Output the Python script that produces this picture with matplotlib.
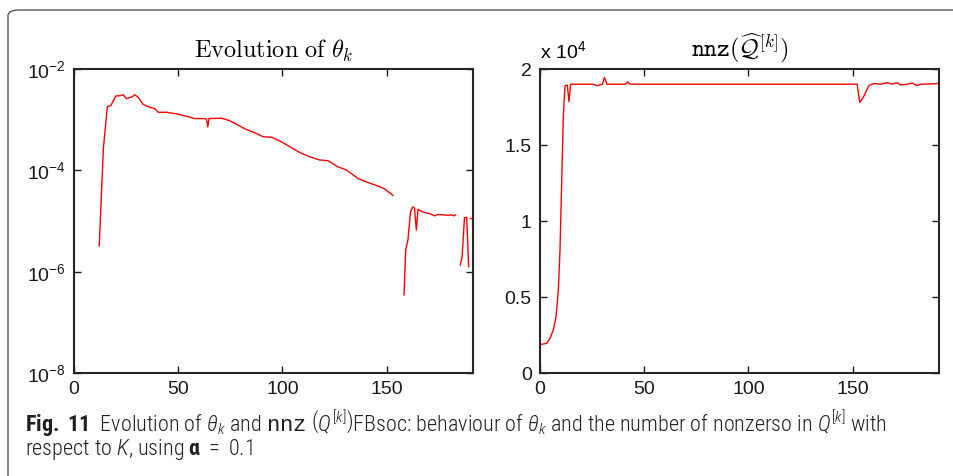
import numpy as np
import matplotlib
matplotlib.use("Agg")
from matplotlib import pyplot as plt
from matplotlib import font_manager
from matplotlib.patches import FancyBboxPatch
from matplotlib.ticker import FuncFormatter, NullLocator

nan = np.nan

# left panel: theta_k (log scale), gaps are NaN
theta_k = [12.1, 14.1, 16.0, 17.7, 20.1, 21.7, 23.6, 25.2, 27.7, 29.2, 30.8, 33.2, 36.4,
           38.8, 40.4, 44.4, 49.2, 54.0, 58.0, 62.8, 63.6, 64.2, 64.8, 70.8, 74.8, 78.0,
           82.0, 86.8, 90.8, 94.8, 98.8, 103.5, 108.3, 113.1, 117.9, 121.9, 126.7, 130.7,
           136.3, 140.3, 145.9, 149.1, 153.1, 155.5,
           158.4, 159.2, 160.3, 161.5, 162.6, 163.4, 164.3, 165.1, 167.5, 170.7, 173.1,
           174.7, 178.7, 181.5, 182.2, 183.1, 184.0,
           185.4, 186.3, 187.4, 188.5, 189.4, 189.8,
           190.2, 191.0]
theta_val = [3.2e-6, 2.7e-4, 1.8e-3, 1.9e-3, 2.95e-3, 2.95e-3, 3.1e-3, 2.6e-3, 2.8e-3, 3.1e-3,
             2.75e-3, 2.0e-3, 1.75e-3, 1.65e-3, 1.4e-3, 1.4e-3, 1.3e-3, 1.17e-3, 1.05e-3,
             1.05e-3, 1.02e-3, 7.2e-4, 1.05e-3, 1.07e-3, 9.5e-4, 8.1e-4, 6.6e-4, 5.5e-4,
             4.6e-4, 4.5e-4, 3.8e-4, 2.95e-4, 2.25e-4, 1.85e-4, 1.6e-4, 1.55e-4, 1.17e-4,
             1.02e-4, 6.9e-5, 5.9e-5, 4.9e-5, 4.3e-5, 3.2e-5, nan,
             3.5e-7, 2.7e-6, 4.3e-6, 1.5e-5, 1.9e-5, 1.8e-5, 6.6e-6, 1.7e-5, 1.5e-5,
             1.4e-5, 1.26e-5, 1.35e-5, 1.3e-5, 1.32e-5, 1.26e-5, 1.32e-5, nan,
             1.35e-6, 2.0e-6, 1.17e-5, 1.17e-5, 1.26e-6, nan,
             1.12e-5, 1.12e-5]

# right panel: nnz(Q^[k])
nnz_k = [0.8, 3.2, 4.8, 6.4, 7.7, 8.8, 9.6, 10.4, 11.2, 12.0, 13.1, 13.9, 14.7, 25.6, 27.2,
         30.0, 30.9, 32.1, 40.9, 42.0, 43.3, 152.2, 153.5, 155.4, 157.8, 160.3, 163.5,
         166.7, 169.1, 171.5, 173.1, 176.3, 178.7, 180.8, 182.7, 187.5, 191.8]
nnz_val = [1890, 1950, 2280, 2830, 3700, 5460, 8100, 12500, 16900, 18900, 18950, 17850,
           19000, 19000, 18900, 19000, 19450, 19000, 19000, 19150, 19000, 19000, 17800,
           18200, 18900, 19050, 19000, 19100, 19000, 19100, 18950, 19000, 19080, 18900,
           19000, 19020, 19050]

nnz_ticks = [0, 5000, 10000, 15000, 20000]
nnz_ticklabels = ["0", "0.5", "1", "1.5", "2"]
x_ticks = [0, 50, 100, 150]

names = {f.name for f in font_manager.fontManager.ttflist}
cap_font = "Liberation Sans"
for cand in ["Roboto Condensed", "Liberation Sans Narrow", "Open Sans Condensed"]:
    if cand in names:
        cap_font = cand
        break

plt.rcParams["font.family"] = ["Liberation Sans", "DejaVu Sans"]
plt.rcParams["mathtext.rm"] = cap_font + ":light"
plt.rcParams["mathtext.it"] = cap_font + ":italic:light"
plt.rcParams["mathtext.bf"] = cap_font + ":bold"
plt.rcParams["mathtext.tt"] = "Liberation Mono"

fig = plt.figure(figsize=(9.54, 4.76), dpi=100)

box = FancyBboxPatch((8 / 954, -0.05), 1.2, 0.05 + 466 / 476,
                     boxstyle="round,pad=0,rounding_size=0.012",
                     transform=fig.transFigure, fill=False, ec="#555555", lw=1.0)
fig.patches.append(box)

ax1 = fig.add_axes([74 / 954, 103 / 476, 399 / 954, 304 / 476])
ax2 = fig.add_axes([540 / 954, 103 / 476, 399 / 954, 304 / 476])

ax1.plot(theta_k, theta_val, color="#ff0000", lw=1.0)
ax1.set_yscale("log")
ax1.set_ylim(1e-8, 1e-2)
ax1.set_yticks([1e-8, 1e-6, 1e-4, 1e-2])
ax1.yaxis.set_minor_locator(NullLocator())
ax1.yaxis.set_major_formatter(
    FuncFormatter(lambda v, p: r"$\mathregular{10^{%d}}$" % round(np.log10(v))))
ax1.set_title(r"$\mathrm{Evolution\ of\ }\theta_k$", fontsize=17.5, pad=8,
              math_fontfamily="cm")

ax2.plot(nnz_k, nnz_val, color="#ff0000", lw=1.0)
ax2.set_ylim(0, 20000)
ax2.set_yticks(nnz_ticks)
ax2.set_yticklabels(nnz_ticklabels)
ax2.set_title(r"$\mathtt{nnz}(\widehat{\mathcal{Q}}^{[k]})$", fontsize=17.5, pad=8,
              math_fontfamily="cm")
ax2.text(0, 1.036, r"x $\mathregular{10^{4}}$", transform=ax2.transAxes,
         fontsize=14, ha="left", va="baseline")

for ax in (ax1, ax2):
    ax.set_xlim(0, 191.5)
    ax.set_xticks(x_ticks)
    ax.tick_params(direction="in", top=True, right=True, length=5, width=1,
                   labelsize=14, pad=6, colors="#1a1a1a")
    for s in ax.spines.values():
        s.set_linewidth(1.5)
        s.set_color("#262626")

cap1 = (r"$\mathbf{Fig.\ 11}$  Evolution of $\theta_k$ and $\mathtt{nnz}\ \left(Q^{[k]}\right)$"
        r"FBsoc: behaviour of $\theta_k$ and the number of nonzerso in $Q^{[k]}$ with")
cap2 = r"respect to $K$, using $\mathbf{\alpha}\ =\ 0.1$"
probe = fig.text(0, 0, cap1, fontsize=12, family=cap_font, weight="light",
                 math_fontfamily="custom")
r = fig.canvas.get_renderer()
size = 12 * 860 / probe.get_window_extent(r).width
probe.remove()

fig.text(25 / 954, 1 - 455 / 476, cap1 + "\n" + cap2, fontsize=size, family=cap_font,
         weight="light", color="#231f20", ha="left", va="baseline", linespacing=0.9,
         math_fontfamily="custom")

fig.savefig("out.png", dpi=100)
